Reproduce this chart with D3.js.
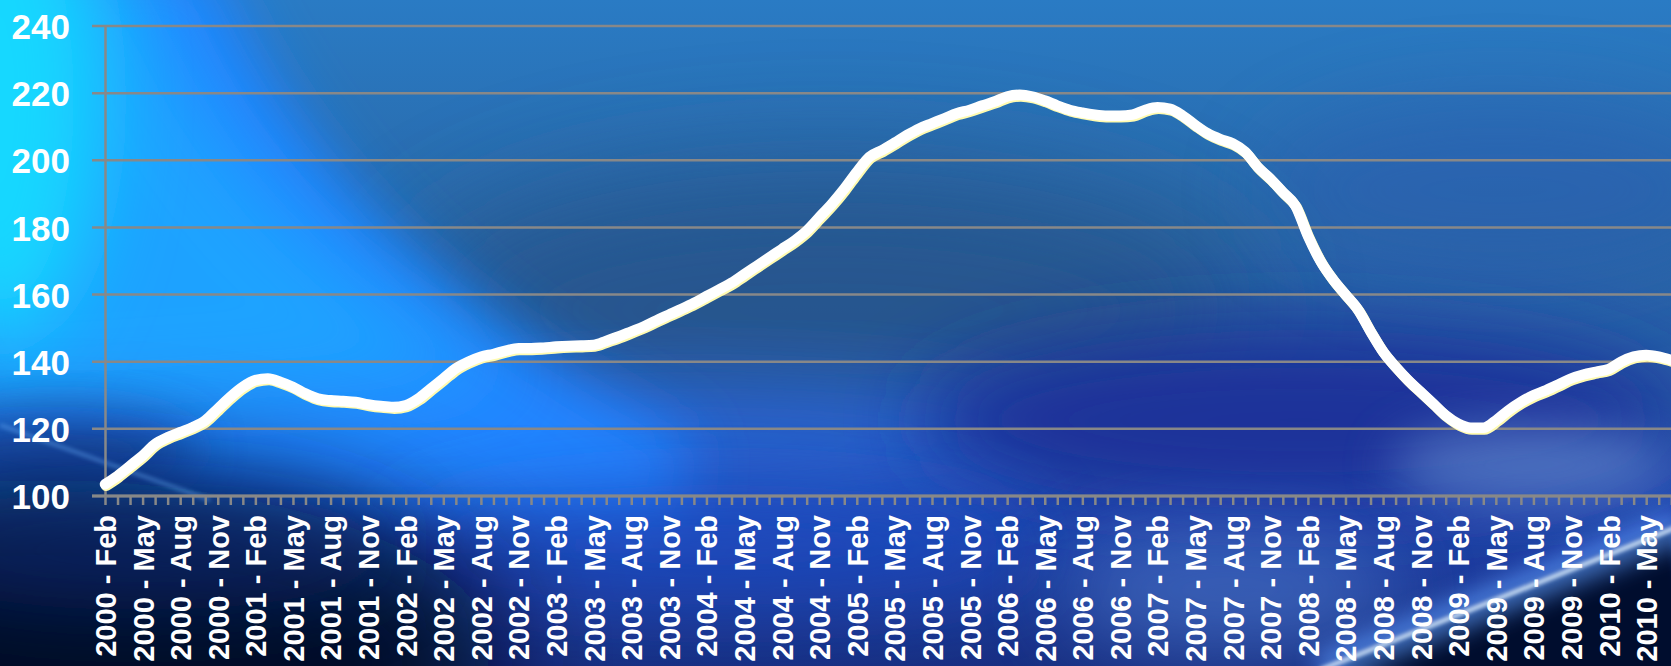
<!DOCTYPE html>
<html><head><meta charset="utf-8">
<script src="https://cdn.jsdelivr.net/npm/d3@7"></script>
<style>html,body{margin:0;padding:0;background:#0a1e5a;overflow:hidden}</style>
</head><body>
<script>
// ---- data ----
const monthNames = ["Jan","Feb","Mar","Apr","May","Jun","Jul","Aug","Sep","Oct","Nov","Dec"];
const startYear = 2000;
const startMonthIndex = 1; // Feb
const labelMonths = ["Feb","May","Aug","Nov"];
const yTicks = [100,120,140,160,180,200,220,240];
const values = [
  103.5,106,109,112,115.5,117.5,119,120.5,122.5,126,129.5,          // 2000 Feb-Dec
  132.5,134.5,135,134,132.5,130.5,129,128.5,128.3,128,127.3,126.8,  // 2001
  126.5,127,129,132,135,138,140,141.5,142.3,143.3,144,144,          // 2002
  144.2,144.5,144.7,144.8,145,146.2,147.5,149,150.5,152.3,154,155.7,// 2003
  157.5,159.5,161.5,163.5,166,168.5,171,173.5,176,179,183,187,      // 2004
  191.5,196.5,201,203,205.2,207.5,209.5,211,212.5,214,215,216.3,    // 2005
  217.5,219,219.5,219,217.8,216.3,215,214.2,213.6,213.3,213.3,213.6,// 2006
  215,215.8,215.3,213.3,210.5,208,206.3,205,202.5,198,194.5,190.5,  // 2007
  186.5,177.5,170,164.5,160,155.5,149,143,138.5,134.5,131,127.5,    // 2008
  124,121.5,120.3,120.3,122.5,125.5,128,130,131.5,133.2,135,136.2,  // 2009
  137,137.8,140,141.5,142,141.5,140.5                               // 2010 Jan-Jul
];
const categories = values.map((_, i) => {
  const k = startMonthIndex + i;
  return (startYear + Math.floor(k / 12)) + " - " + monthNames[k % 12];
});

// ---- layout ----
const W = 1671, H = 666;
const x0 = 105, monthStep = 12.53;
const svg = d3.select("body").append("svg").attr("width", W).attr("height", H);
const defs = svg.append("defs");

const x = d3.scalePoint().domain(categories).range([x0, x0 + monthStep * (categories.length - 1)]);
const y = d3.scaleLinear().domain([100, 240]).range([496, 26]);

// ---- background ----
function blur(id, sd) {
  defs.append("filter").attr("id", id).attr("x", "-50%").attr("y", "-50%").attr("width", "200%").attr("height", "200%")
    .append("feGaussianBlur").attr("stdDeviation", sd);
}
blur("b60", 60); blur("b40", 40); blur("b30", 30); blur("b25", 25); blur("b12", 12); blur("b5", 5); blur("b2", 2);

const base = defs.append("linearGradient").attr("id", "base").attr("x1", 0).attr("y1", 0).attr("x2", 0).attr("y2", 1);
[[0, "#2a7bc4"], [0.35, "#2968a8"], [0.6, "#2658a6"], [0.75, "#2248b0"], [1, "#182f82"]]
  .forEach(([o, c]) => base.append("stop").attr("offset", o).attr("stop-color", c));

const bg = svg.append("g");
bg.append("rect").attr("width", W).attr("height", H).attr("fill", "url(#base)");
// dark centre
bg.append("ellipse").attr("cx", 830).attr("cy", 310).attr("rx", 420).attr("ry", 140)
  .attr("fill", "#25548c").attr("opacity", 0.9).attr("filter", "url(#b60)");
// royal blue lower middle
bg.append("ellipse").attr("cx", 700).attr("cy", 440).attr("rx", 360).attr("ry", 60)
  .attr("fill", "#2a66e0").attr("opacity", 0.75).attr("filter", "url(#b40)");
// bright blue sweeping band from top-left
bg.append("path").attr("d", "M-60,-40 L210,-40 C300,170 450,320 690,440 L680,520 L-60,520 Z")
  .attr("fill", "#2384ff").attr("filter", "url(#b30)");
bg.append("path").attr("d", "M-60,-40 L140,-40 C200,150 330,280 520,380 L-60,420 Z")
  .attr("fill", "#1fb0ff").attr("opacity", 0.7).attr("filter", "url(#b40)");
// cyan at left edge
bg.append("ellipse").attr("cx", 0).attr("cy", 100).attr("rx", 100).attr("ry", 240)
  .attr("fill", "#19d8ff").attr("filter", "url(#b40)");
// darker streak lower-left
bg.append("ellipse").attr("cx", 60).attr("cy", 450).attr("rx", 140).attr("ry", 40)
  .attr("fill", "#1f4fb0").attr("opacity", 0.8).attr("filter", "url(#b25)");
// right royal blue
bg.append("ellipse").attr("cx", 1300).attr("cy", 420).attr("rx", 380).attr("ry", 90)
  .attr("fill", "#1f339a").attr("filter", "url(#b40)");
bg.append("ellipse").attr("cx", 1500).attr("cy", 190).attr("rx", 240).attr("ry", 90)
  .attr("fill", "#2a5cb0").attr("opacity", 0.5).attr("filter", "url(#b40)");
// light haze lower right
bg.append("ellipse").attr("cx", 1530).attr("cy", 465).attr("rx", 140).attr("ry", 40)
  .attr("fill", "#5f86cc").attr("opacity", 0.7).attr("filter", "url(#b25)");
bg.append("ellipse").attr("cx", 1230).attr("cy", 590).attr("rx", 170).attr("ry", 60)
  .attr("fill", "#4a74c8").attr("opacity", 0.65).attr("filter", "url(#b40)");
// bottom band below axis
bg.append("ellipse").attr("cx", 720).attr("cy", 545).attr("rx", 320).attr("ry", 60)
  .attr("fill", "#1e4cc4").attr("opacity", 0.7).attr("filter", "url(#b40)");
// bottom-left navy
bg.append("ellipse").attr("cx", 40).attr("cy", 660).attr("rx", 460).attr("ry", 180)
  .attr("fill", "#030b28").attr("filter", "url(#b60)");
bg.append("ellipse").attr("cx", 140).attr("cy", 550).attr("rx", 260).attr("ry", 60)
  .attr("fill", "#0c2a78").attr("opacity", 0.6).attr("filter", "url(#b40)");
// faint diagonal streak bottom-left
bg.append("line").attr("x1", 0).attr("y1", 425).attr("x2", 210).attr("y2", 500)
  .attr("stroke", "#6fb6ff").attr("stroke-width", 3).attr("opacity", 0.5).attr("filter", "url(#b2)");
// bottom-right dark corner and bright streak
bg.append("path").attr("d", "M1330,666 L1671,528 L1700,700 Z").attr("fill", "#06112e").attr("filter", "url(#b5)");
bg.append("line").attr("x1", 1320).attr("y1", 670).attr("x2", 1680).attr("y2", 526)
  .attr("stroke", "#5d9cff").attr("stroke-width", 30).attr("opacity", 0.7).attr("filter", "url(#b12)");
bg.append("line").attr("x1", 1320).attr("y1", 670).attr("x2", 1680).attr("y2", 526)
  .attr("stroke", "#e6f4ff").attr("stroke-width", 4).attr("filter", "url(#b2)");

// ---- grid & axes ----
const gridColor = "#888888";
const grid = svg.append("g");
grid.selectAll("line.g").data(yTicks).join("line")
  .attr("x1", 92).attr("x2", W)
  .attr("y1", d => y(d)).attr("y2", d => y(d))
  .attr("stroke", gridColor).attr("stroke-width", 2.5);

const yAxis = svg.append("g").attr("transform", `translate(${x0},0)`)
  .call(d3.axisLeft(y).tickValues(yTicks).tickSize(0).tickPadding(35).tickFormat(d3.format("d")));
yAxis.select(".domain").attr("stroke", gridColor).attr("stroke-width", 2.5);
yAxis.selectAll("text").attr("fill", "#fff").attr("font-family", "'Liberation Sans', Arial, sans-serif")
  .attr("font-weight", "bold").attr("font-size", 35).attr("dy", "0.36em");

const xAxis = svg.append("g").attr("transform", `translate(0,${y(100)})`)
  .call(d3.axisBottom(x).tickSize(9).tickPadding(0)
    .tickFormat(d => labelMonths.includes(d.split(" - ")[1]) ? d : ""));
xAxis.select(".domain").attr("stroke", gridColor).attr("stroke-width", 3).attr("d", `M92,0H${W}`);
xAxis.selectAll(".tick line").attr("stroke", gridColor).attr("stroke-width", 2.5);
xAxis.selectAll(".tick text")
  .attr("fill", "#fff").attr("font-family", "'Liberation Sans', Arial, sans-serif")
  .attr("font-weight", "bold").attr("font-size", 29)
  .attr("text-anchor", "end").attr("transform", "translate(0,19) rotate(-90)")
  .attr("x", 0).attr("y", 0).attr("dy", "0.36em");

// ---- line ----
const line = d3.line().x((d, i) => x(categories[i])).y(d => y(d)).curve(d3.curveMonotoneX);
svg.append("path").datum(values).attr("d", line)
  .attr("fill", "none").attr("stroke", "#fffbb0").attr("stroke-width", 10.5)
  .attr("stroke-linecap", "round").attr("stroke-linejoin", "round")
  .attr("transform", "translate(1.2,1.6)");
svg.append("path").datum(values).attr("d", line)
  .attr("fill", "none").attr("stroke", "#ffffff").attr("stroke-width", 10.5)
  .attr("stroke-linecap", "round").attr("stroke-linejoin", "round");
</script>
</body></html>
